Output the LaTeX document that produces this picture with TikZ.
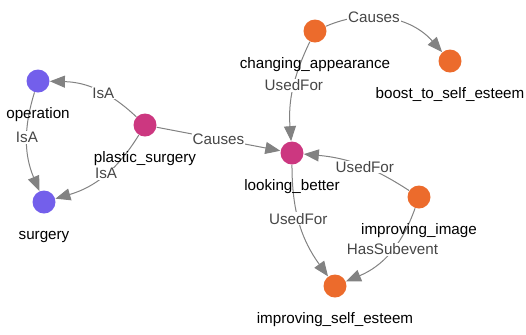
\documentclass[tikz,border=0pt]{standalone}
\usepackage{fontspec}
\setmainfont{Liberation Sans}
\usetikzlibrary{arrows.meta}
\definecolor{isaPurple}{RGB}{115,95,235}
\definecolor{hubMagenta}{RGB}{204,55,128}
\definecolor{leafOrange}{RGB}{236,107,44}
\definecolor{edgeGray}{RGB}{130,130,130}
\definecolor{lblGray}{RGB}{70,70,70}
\begin{document}
\begin{tikzpicture}[x=0.5pt, y=-0.5pt, font=\fontsize{7.6}{9}\selectfont,
    concept/.style={circle, minimum size=11.5pt, inner sep=0pt},
    tag/.style={anchor=base, text=black, inner sep=0pt},
    rel/.style={draw=edgeGray, line width=0.5pt, -{Triangle[length=7.5pt,width=6pt]}},
    rlbl/.style={fill=white, text=lblGray, inner sep=0.4pt}]
      \useasboundingbox (0,0) rectangle (526,334);
      \def\drop{18.5pt}% circle centre to text baseline
      % -------------------------------------------- concepts
      \node[concept, fill=isaPurple]   at (38, 81)   (operation) {};
      \node[concept, fill=isaPurple]   at (44, 202)  (surgery) {};
      \node[concept, fill=hubMagenta]  at (145, 125) (plastic_surgery) {};
      \node[concept, fill=hubMagenta]  at (292, 153) (looking_better) {};
      \node[concept, fill=leafOrange]  at (315, 31)  (changing_appearance) {};
      \node[concept, fill=leafOrange]  at (450, 61)  (boost_to_self_esteem) {};
      \node[concept, fill=leafOrange]  at (419, 197) (improving_image) {};
      \node[concept, fill=leafOrange]  at (335, 286) (improving_self_esteem) {};
      % -------------------------------------------- relations
      \draw[rel] (plastic_surgery) to[bend right=21] node[rlbl, pos=0.42] {IsA} (operation);
      \draw[rel] (operation) to[bend right=20] node[rlbl, pos=0.45] {IsA} (surgery);
      \draw[rel] (plastic_surgery) to[bend left=21] node[rlbl, pos=0.47] {IsA} (surgery);
      \draw[rel] (plastic_surgery) -- node[rlbl] {Causes} (looking_better);
      \draw[rel] (changing_appearance) to[bend left=36] node[rlbl, pos=0.38] {Causes} (boost_to_self_esteem);
      \draw[rel] (changing_appearance) to[bend right=15] node[rlbl, pos=0.45] {UsedFor} (looking_better);
      \draw[rel] (improving_image) to[bend right=14] node[rlbl, pos=0.44] {UsedFor} (looking_better);
      \draw[rel] (looking_better) to[bend right=18] node[rlbl, pos=0.45] {UsedFor} (improving_self_esteem);
      \draw[rel] (improving_image) to[bend left=24] node[rlbl, pos=0.45] {HasSubevent} (improving_self_esteem);
      % -------------------------------------------- names
      \node[tag] at ([yshift=-\drop]operation.center) (operation_t) {operation};
      \node[tag] at ([yshift=-\drop]surgery.center) (surgery_t) {surgery};
      \node[tag] at ([yshift=-\drop]plastic_surgery.center) (plastic_surgery_t) {plastic\_surgery};
      \node[tag] at ([yshift=-\drop]looking_better.center) (looking_better_t) {looking\_better};
      \node[tag] at ([yshift=-\drop]changing_appearance.center) (changing_appearance_t) {changing\_appearance};
      \node[tag] at ([yshift=-\drop]boost_to_self_esteem.center) (boost_to_self_esteem_t) {boost\_to\_self\_esteem};
      \node[tag] at ([yshift=-\drop]improving_image.center) (improving_image_t) {improving\_image};
      \node[tag] at ([yshift=-\drop]improving_self_esteem.center) (improving_self_esteem_t) {improving\_self\_esteem};
\end{tikzpicture}
\end{document}
